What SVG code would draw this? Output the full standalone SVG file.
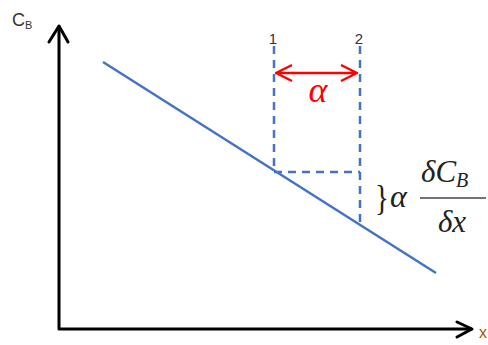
<svg xmlns="http://www.w3.org/2000/svg" width="488" height="345" viewBox="0 0 488 345">
<style>
.ax{stroke:#000;stroke-width:3;fill:none;stroke-linecap:round;stroke-linejoin:round}
.dash{stroke:#4472C4;stroke-width:2.5;stroke-dasharray:8,6;fill:none}
.lbl{font-family:"Liberation Sans",Arial,sans-serif;fill:#333}
.m{font-family:"Liberation Serif","DejaVu Serif",serif;font-style:italic;fill:#222}
</style>
<rect width="488" height="345" fill="#fff"/>
<g id="axes">
<path class="ax" d="M59,27 V329 H471"/>
<path class="ax" d="M49,42 L59,26 L68,42"/>
<path class="ax" d="M457,322 L472,329 L457,337"/>
<text class="lbl" x="12" y="26" font-size="18">C<tspan font-size="11" dy="3">B</tspan></text>
<text class="lbl" x="479" y="338" font-size="16" style="fill:#a50">x</text>
</g>
<g id="curve">
<line x1="103" y1="62" x2="436" y2="273" stroke="#4472C4" stroke-width="2.5"/>
</g>
<g id="connectors">
<line class="dash" x1="274" y1="46" x2="274" y2="172"/>
<line class="dash" x1="360" y1="46" x2="360" y2="224"/>
<line class="dash" x1="274" y1="172" x2="360" y2="172"/>
<text class="lbl" x="273" y="44" font-size="15" text-anchor="middle">1</text>
<text class="lbl" x="359" y="44" font-size="15" text-anchor="middle">2</text>
<path d="M276,73 H357 M292,65 L276,73 L292,81 M341,65 L357,73 L341,81" stroke="#f00" stroke-width="2.5" fill="none" stroke-linejoin="round"/>
<text class="m" x="318" y="102" font-size="36" text-anchor="middle" style="fill:#f00">α</text>
</g>
<g id="formula">
<text x="375" y="210" font-size="36" font-family="'Liberation Serif',serif" fill="#222" transform="translate(375,0) scale(0.8,1) translate(-375,0)">}</text>
<text class="m" x="390" y="207" font-size="32">α</text>
<text class="m" x="421" y="182" font-size="31">δC<tspan font-size="20" dy="5">B</tspan></text>
<line x1="420" y1="198" x2="486" y2="198" stroke="#444" stroke-width="1.5"/>
<text class="m" x="452" y="232" font-size="31" text-anchor="middle">δx</text>
</g>
</svg>
